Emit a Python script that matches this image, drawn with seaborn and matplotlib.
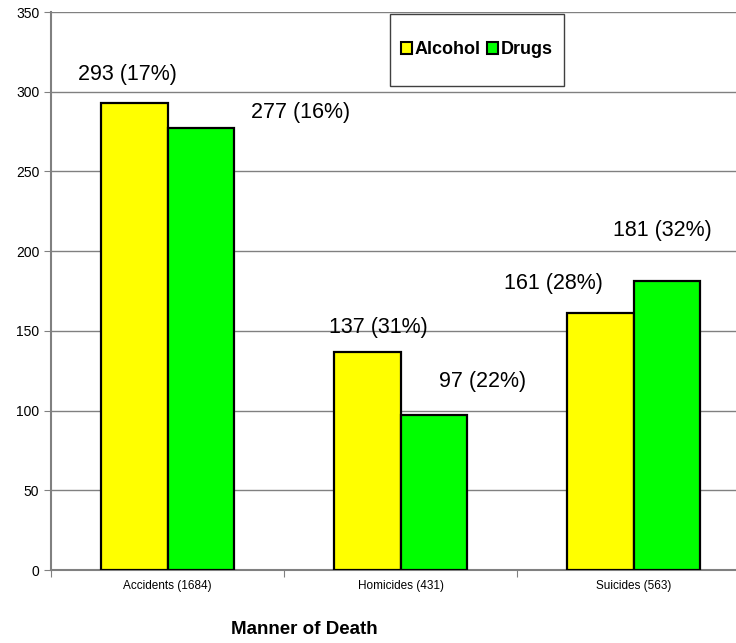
import pandas as pd
import matplotlib.pyplot as plt
import seaborn as sns
from matplotlib.patches import Patch, Rectangle

# Data
categories = ["Accidents (1684)", "Homicides (431)", "Suicides (563)"]
alcohol = [293, 137, 161]
drugs = [277, 97, 181]
alcohol_pct = [17, 31, 28]
drugs_pct = [16, 22, 32]

df = pd.DataFrame({
    "Manner": categories * 2,
    "Count": alcohol + drugs,
    "Substance": ["Alcohol"] * 3 + ["Drugs"] * 3,
})

sns.set_style("white")
plt.rcParams["font.family"] = ["Liberation Sans", "DejaVu Sans"]
plt.rcParams["text.color"] = "black"
plt.rcParams["xtick.color"] = "black"
plt.rcParams["ytick.color"] = "black"
plt.rcParams["axes.labelcolor"] = "black"

fig = plt.figure(figsize=(7.36, 6.43), dpi=100)
ax = fig.add_axes([51 / 736, 73 / 643, 699 / 736, 558 / 643])

sns.barplot(data=df, x="Manner", y="Count", hue="Substance",
            palette=["#FFFF00", "#00FF00"], saturation=1, width=0.57,
            edgecolor="black", linewidth=1.6, ax=ax, legend=False, zorder=3)

ax.set_xlim(-0.5, 2.5)
ax.set_ylim(0, 350)
ax.set_yticks(range(0, 351, 50))
ax.yaxis.grid(True, color="#808080", linewidth=1)
ax.set_axisbelow(True)

# ticks between categories, labels under categories
ax.set_xticks([-0.5, 0.5, 1.5, 2.5])
ax.set_xticklabels([])
ax.set_xticks([0, 1, 2], minor=True)
ax.set_xticklabels(categories, minor=True, fontsize=8.5,
                   family=["Liberation Sans Narrow", "Liberation Sans"])
ax.tick_params(axis="x", which="minor", length=0, pad=7)
ax.tick_params(axis="x", which="major", length=5, color="#808080", direction="out")
ax.tick_params(axis="y", length=5, color="#808080", direction="out", labelsize=10)
ax.tick_params(left=True, bottom=True)

for s in ["top", "right"]:
    ax.spines[s].set_visible(False)
for s in ["left", "bottom"]:
    ax.spines[s].set_color("#808080")
    ax.spines[s].set_linewidth(1.5)

ax.set_ylabel("")
ax.set_xlabel("Manner of Death", fontsize=13.5, fontweight="bold",
              family=["Liberation Sans Narrow", "Liberation Sans"])
ax.xaxis.set_label_coords((304 - 51) / 699, -0.092)

# value labels (manually nudged like in the original)
offsets_a = [(-0.03, 17.5), (0.046, 15.4), (-0.2, 19)]
offsets_d = [(0.43, 9.7), (0.21, 21), (-0.02, 32)]
for i in range(3):
    dx, dy = offsets_a[i]
    ax.text(i - 0.1425 + dx, alcohol[i] + dy, f"{alcohol[i]} ({alcohol_pct[i]}%)",
            ha="center", va="center", fontsize=15.5)
    dx, dy = offsets_d[i]
    ax.text(i + 0.1425 + dx, drugs[i] + dy, f"{drugs[i]} ({drugs_pct[i]}%)",
            ha="center", va="center", fontsize=15.5)

# legend box
fig.patches.append(Rectangle((390 / 736, 1 - 86 / 643), 174 / 736, 72 / 643,
                             transform=fig.transFigure, facecolor="white",
                             edgecolor="#404040", linewidth=1, zorder=5))
handles = [Patch(facecolor="#FFFF00", edgecolor="black", linewidth=1.5),
           Patch(facecolor="#00FF00", edgecolor="black", linewidth=1.5)]
leg = fig.legend(handles, ["Alcohol", "Drugs"], loc="center",
                 bbox_to_anchor=(477 / 736, 1 - 50 / 643), ncol=2, frameon=False,
                 handlelength=0.6, handleheight=0.6, handletextpad=0.15,
                 columnspacing=0.35, prop={"weight": "bold", "size": 13})
leg.set_zorder(6)

fig.savefig("out.png", dpi=100)
